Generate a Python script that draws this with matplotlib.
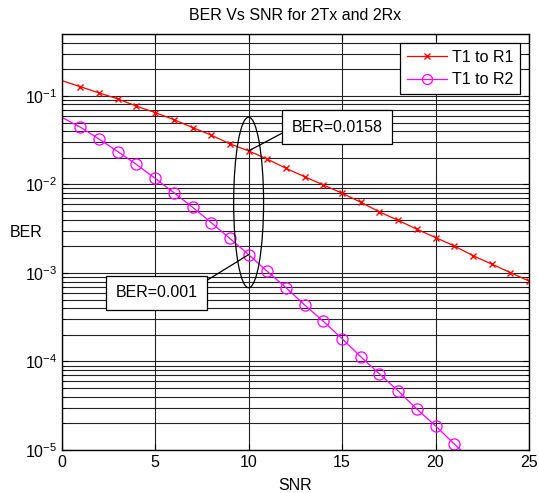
import matplotlib
matplotlib.use('Agg')
import matplotlib.pyplot as plt
from matplotlib.patches import Ellipse
from matplotlib.ticker import LogLocator, FixedLocator, NullFormatter

plt.rcParams['font.family'] = ['Liberation Sans', 'DejaVu Sans']
plt.rcParams['mathtext.fontset'] = 'custom'
plt.rcParams['mathtext.rm'] = 'Liberation Sans'
plt.rcParams['mathtext.it'] = 'Liberation Sans'

# values
snr = list(range(0, 26))
ber_r1 = [0.149, 0.127, 0.108, 0.0925, 0.0766, 0.0647, 0.0540, 0.0439, 0.0360,
          0.0287, 0.0239, 0.0193, 0.0152, 0.0122, 0.00986, 0.00796, 0.00630,
          0.00489, 0.00393, 0.00312, 0.00251, 0.00202, 0.00157, 0.00126,
          0.00101, 0.00081]
snr_r2 = list(range(0, 23))
ber_r2 = [0.0574, 0.0443, 0.0325, 0.0235, 0.0168, 0.0117, 0.00807, 0.00552,
          0.00370, 0.00245, 0.00161, 0.00104, 6.82e-4, 4.34e-4, 2.84e-4,
          1.81e-4, 1.13e-4, 7.23e-5, 4.65e-5, 2.90e-5, 1.87e-5, 1.17e-5, 7.4e-6]
x_ticks = [0, 5, 10, 15, 20, 25]

FS = 11.5

fig = plt.figure(figsize=(5.39, 4.93), dpi=100)
ax = fig.add_axes([61.7 / 539, 1 - 450 / 493, (529 - 61.7) / 539, (450 - 34) / 493])

ax.semilogy(snr, ber_r1, color='red', lw=0.9, marker='x', ms=4.5, mew=1.0,
            markevery=list(range(1, len(snr))), label='T1 to R1')
ax.semilogy(snr_r2, ber_r2, color='magenta', lw=0.9, marker='o', ms=8,
            mfc='none', mew=0.9, markevery=list(range(1, 22)), label='T1 to R2')

ax.set_xlim(0, 25)
ax.set_ylim(1e-5, 0.5)
ax.xaxis.set_major_locator(FixedLocator(x_ticks))
ax.yaxis.set_major_locator(LogLocator(base=10, numticks=10))
ax.yaxis.set_minor_locator(LogLocator(base=10, subs=range(2, 10), numticks=20))
ax.yaxis.set_minor_formatter(NullFormatter())

ax.grid(True, which='major', color='#222222', lw=0.8)
ax.grid(True, which='minor', axis='y', color='#222222', lw=0.8)
ax.set_axisbelow(True)

ax.tick_params(which='both', direction='in', top=True, right=True, labelsize=FS)
ax.tick_params(which='major', length=4)
ax.tick_params(which='minor', length=2)
for s in ax.spines.values():
    s.set_linewidth(1.0)

ax.set_title('BER Vs SNR for 2Tx and 2Rx', fontsize=FS, pad=10)
ax.set_xlabel('SNR', fontsize=FS, labelpad=6)
ax.set_ylabel('BER', fontsize=FS, rotation=0, va='center')
ax.yaxis.set_label_coords(-0.076, 0.522)

# ellipse around SNR=10
ax.add_patch(Ellipse((0.4, 0.595), 0.064, 0.41, transform=ax.transAxes,
                     fill=False, ec='black', lw=0.9, zorder=3))

box = dict(boxstyle='square,pad=0.6', fc='white', ec='black', lw=0.9)
ax.annotate('BER=0.0158', xy=(10, 0.0239), xytext=(12.3, 0.0441),
            fontsize=FS, va='center', ha='left', bbox=box,
            arrowprops=dict(arrowstyle='-', color='black', lw=0.9,
                            shrinkA=0, shrinkB=0, relpos=(0, 0.45)), zorder=4)
ax.annotate('BER=0.001', xy=(10, 0.00161), xytext=(2.87, 0.000594),
            fontsize=FS, va='center', ha='left', bbox=box,
            arrowprops=dict(arrowstyle='-', color='black', lw=0.9,
                            shrinkA=0, shrinkB=0, relpos=(1, 0.95)), zorder=4)

leg = ax.legend(loc='upper right', fontsize=FS, frameon=True, fancybox=False,
                edgecolor='black', framealpha=1, borderpad=0.45, handlelength=2.5,
                labelspacing=0.45, handletextpad=0.3, borderaxespad=0.55,
                markerscale=0.9)
leg.get_frame().set_linewidth(0.9)

plt.savefig('out.png', dpi=100)
